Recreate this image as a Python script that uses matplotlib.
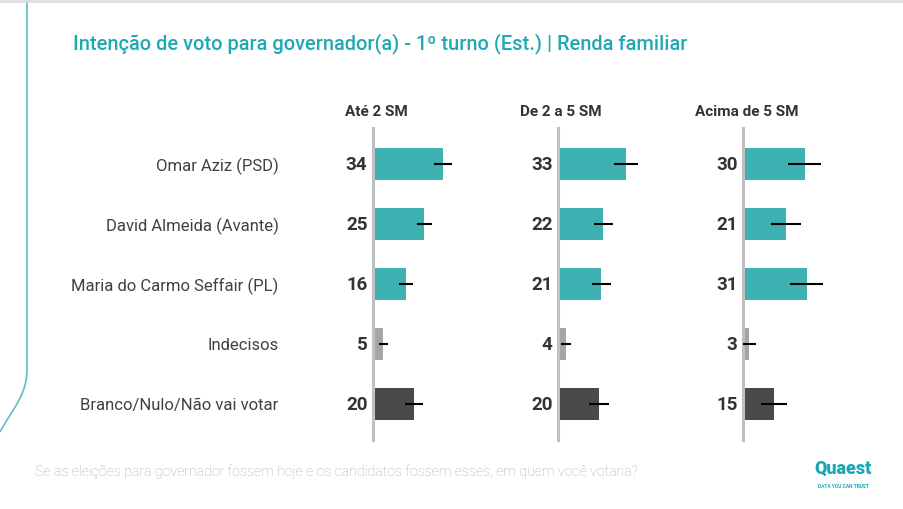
import numpy as np
import matplotlib.pyplot as plt
from matplotlib.path import Path
from matplotlib.patches import PathPatch

plt.rcParams['font.family'] = ['Roboto', 'DejaVu Sans']

# data
candidates = ['Omar Aziz (PSD)', 'David Almeida (Avante)', 'Maria do Carmo Seffair (PL)',
              'Indecisos', 'Branco/Nulo/Não vai votar']
groups = ['Até 2 SM', 'De 2 a 5 SM', 'Acima de 5 SM']
ate_2 = [34, 25, 16, 5, 20]
de_2_a_5 = [33, 22, 21, 4, 20]
acima_5 = [30, 21, 31, 3, 15]
err_ate_2 = [4.2, 3.6, 3.4, 2.2, 4.4]
err_de_2_a_5 = [5.6, 4.6, 4.6, 2.4, 4.9]
err_acima_5 = [8.0, 7.3, 8.0, 3.4, 6.3]

values = [ate_2, de_2_a_5, acima_5]
errors = [err_ate_2, err_de_2_a_5, err_acima_5]
colors = ['#3eb1b2', '#3eb1b2', '#3eb1b2', '#a6a6a6', '#4a4a4a']

W, H = 904, 509
fig = plt.figure(figsize=(W / 100, H / 100), dpi=100)

# background decoration (pixel coords)
bg = fig.add_axes([0, 0, 1, 1], zorder=0)
bg.set_xlim(0, W)
bg.set_ylim(H, 0)
bg.axis('off')
bg.plot([0, W], [1, 1], color='#dddddd', lw=2)
verts = [(27, 0), (27, 368), (27, 395), (15, 405), (0, 432)]
codes = [Path.MOVETO, Path.LINETO, Path.CURVE4, Path.CURVE4, Path.CURVE4]
bg.add_patch(PathPatch(Path(verts, codes), fill=False, edgecolor='#5bbfc5', lw=1.2))

fig.text(73 / W, 1 - 44 / H, 'Intenção de voto para governador(a) - 1º turno (Est.) | Renda familiar',
         color='#1fa9b4', fontsize=14.4, fontweight='medium', va='center', ha='left')
fig.text(35 / W, 1 - 472 / H,
         'Se as eleições para governador fossem hoje e os candidatos fossem esses, em quem você votaria?',
         color='#adadad', fontsize=10.2, fontweight='light', va='center', ha='left')
fig.text(843 / W, 1 - 469 / H, 'Quaest', color='#1aa7b3', fontsize=13, fontweight='black',
         va='center', ha='center')
fig.text(843 / W, 1 - 486 / H, 'DATA YOU CAN TRUST', color='#1aa7b3', fontsize=3.5,
         fontweight='bold', va='center', ha='center')

axis_x = [373, 558, 743]
header_x = [376, 561, 747]
y = np.arange(len(candidates))

for i in range(3):
    ax = fig.add_axes([axis_x[i] / W, (H - 440) / H, 82.4 / W, 312 / H], zorder=1)
    ax.barh(y, values[i], height=0.52, color=colors, zorder=2)
    ax.errorbar(values[i], y, xerr=errors[i], fmt='none', ecolor='black', elinewidth=1.5,
                capsize=0, zorder=3)
    for yy, v in zip(y, values[i]):
        ax.annotate(str(v), (0, yy), xytext=(-4, -1), textcoords='offset points',
                    ha='right', va='center', fontsize=13.5, fontweight='bold', color='#333333')
    ax.set_xlim(0, 40)
    ax.set_ylim(4.6, -0.6)
    for s in ['top', 'right', 'bottom']:
        ax.spines[s].set_visible(False)
    ax.spines['left'].set_color('#c0c0c0')
    ax.spines['left'].set_linewidth(2.2)
    ax.set_xticks([])
    ax.patch.set_alpha(0)
    if i == 0:
        ax.set_yticks(y)
        ax.set_yticklabels(candidates, fontsize=12, color='#404040')
        ax.tick_params(axis='y', length=0, pad=68)
    else:
        ax.set_yticks([])
    fig.text(header_x[i] / W, 1 - 112 / H, groups[i], ha='center', va='center',
             fontsize=11, fontweight='bold', color='#333333')

fig.savefig('out.png', dpi=100)
